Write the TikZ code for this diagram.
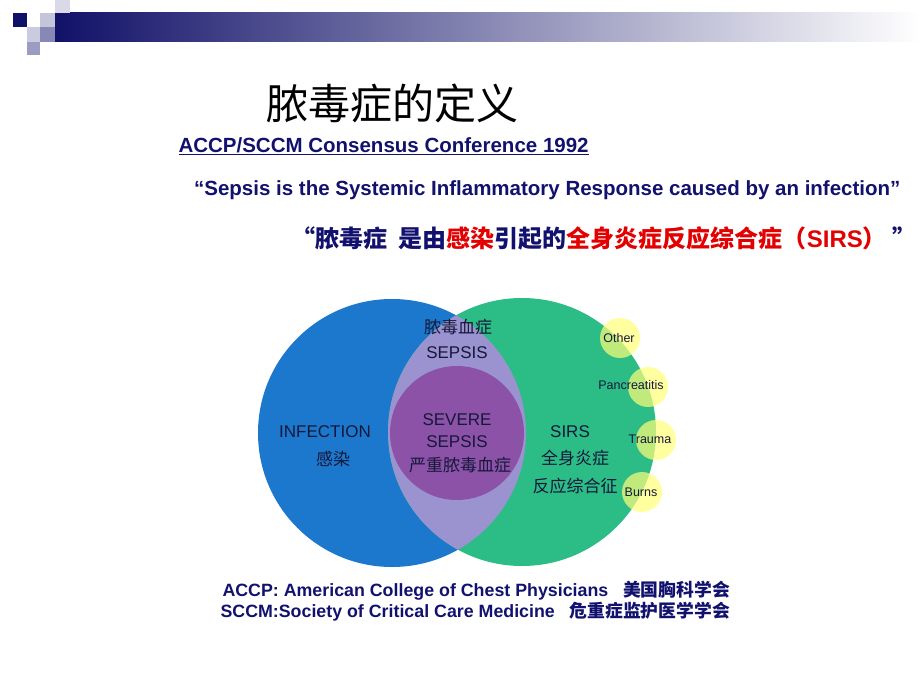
\documentclass[tikz,border=0pt]{standalone}
\usepackage{fontspec}
\setmainfont{Liberation Sans}
\newfontfamily\cjk{Noto Sans CJK SC}

\definecolor{navy}{HTML}{12126E}
\definecolor{hired}{HTML}{E30000}
\definecolor{venntext}{HTML}{16183A}
\definecolor{infblue}{HTML}{1C78CD}
\definecolor{sirsgreen}{HTML}{2CBC86}
\definecolor{lensviolet}{HTML}{9B93CF}
\definecolor{severeviolet}{HTML}{8B52A8}
\definecolor{causeyellow}{HTML}{FFFF78}

\tikzset{
  bigtxt/.style={font=\fontsize{20.5}{23}\selectfont\bfseries, text=navy},
  foottxt/.style={font=\fontsize{17.8}{20}\selectfont\bfseries, text=navy, anchor=west},
  venntxt/.style={font=\fontsize{17}{19}\selectfont, text=venntext, inner sep=0pt},
  causetxt/.style={font=\fontsize{12.5}{14}\selectfont, text=venntext, inner sep=0pt},
  causedot/.style={fill=causeyellow, fill opacity=0.7}
}

\begin{document}
\begin{tikzpicture}[x=1pt, y=-1pt]
  \useasboundingbox (0,0) rectangle (920,690);

  % header bar and squares
  \shade[left color=navy!95!black, right color=white] (55,13) rectangle (920,42);
  \fill[navy!95!black] (13,13) rectangle (27,27);
  \fill[navy!22] (27,27) rectangle (40,42);
  \fill[navy!42] (27,42) rectangle (40,55);
  \fill[navy!25] (40,13) rectangle (55,27);
  \fill[navy!50] (40,27) rectangle (55,42);
  \fill[navy!16] (55,0) rectangle (70,13);

  % title and definition
  \node (title) at (392,103) {\cjk\fontsize{42}{46}\selectfont 脓毒症的定义};
  \node[bigtxt, anchor=west] (conf) at (175,146) {\underline{ACCP/SCCM Consensus Conference 1992}};
  \node[bigtxt, anchor=east] (defen) at (904,190) {“Sepsis is the Systemic Inflammatory Response caused by an infection”};
  \node[anchor=east, text=navy] (defcn) at (920,238) {\cjk\bfseries\fontsize{24}{27}\selectfont “脓毒症\ \ 是由\textcolor{hired}{感染}引起的\textcolor{hired}{全身炎症反应综合症（{\rmfamily SIRS}）}\ ”};

  % venn circles
  \fill[infblue] (392,433) circle (134pt);
  \fill[sirsgreen] (522,432) circle (134pt);
  \begin{scope}
    \clip (392,433) circle (134pt);
    \fill[lensviolet] (522,432) circle (134pt);
  \end{scope}
  \fill[severeviolet] (457,433) circle (67pt);

  % causes of SIRS
  \fill[causedot] (620,338) circle (20pt);
  \fill[causedot] (648,387) circle (20pt);
  \fill[causedot] (656,440) circle (20pt);
  \fill[causedot] (642,492) circle (20pt);

  % venn labels
  \node[venntxt] (sepsiscn) at (458,327) {\cjk 脓毒血症};
  \node[venntxt] (sepsis) at (457,353) {SEPSIS};
  \node[venntxt] (severe) at (457,420) {SEVERE};
  \node[venntxt] (severe2) at (457,442) {SEPSIS};
  \node[venntxt] (severecn) at (460,465) {\cjk 严重脓毒血症};
  \node[venntxt] (infection) at (325,432) {INFECTION};
  \node[venntxt] (infectioncn) at (333,459) {\cjk 感染};
  \node[venntxt] (sirs) at (570,432) {SIRS};
  \node[venntxt] (sirscn) at (575,458) {\cjk 全身炎症};
  \node[venntxt] (sirscn2) at (575,486) {\cjk 反应综合征};
  \node[causetxt] (other) at (619,338) {Other};
  \node[causetxt] (pancreatitis) at (631,385) {Pancreatitis};
  \node[causetxt] (trauma) at (650,439) {Trauma};
  \node[causetxt] (burns) at (641,492) {Burns};

  % abbreviations
  \node[foottxt] (accp) at (219,591) {ACCP: American College of Chest Physicians\ \ \ {\cjk 美国胸科学会}};
  \node[foottxt] (sccm) at (217,612) {SCCM:Society of Critical Care Medicine\ \ \ {\cjk 危重症监护医学学会}};
\end{tikzpicture}
\end{document}
